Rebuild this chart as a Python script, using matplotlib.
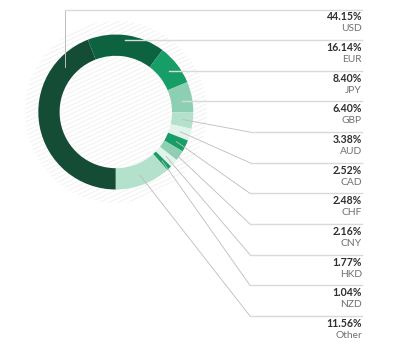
import numpy as np
import matplotlib
matplotlib.use("Agg")
import matplotlib.pyplot as plt
from matplotlib.collections import LineCollection
from matplotlib.patches import Circle

# ---- data ----
currencies = ["USD", "EUR", "JPY", "GBP", "AUD", "CAD", "CHF", "CNY", "HKD", "NZD", "Other"]
shares = [44.15, 16.14, 8.40, 6.40, 3.38, 2.52, 2.48, 2.16, 1.77, 1.04, 11.56]
pct_labels = ["44.15%", "16.14%", "8.40%", "6.40%", "3.38%", "2.52%", "2.48%",
              "2.16%", "1.77%", "1.04%", "11.56%"]
colors = ["#154c35", "#0d6340", "#179e66", "#8dcfb2", "#b3e1cb", "#e1f3ea",
          "#179e66", "#8dcfb2", "#e1f3ea", "#179e66", "#b3e1cb"]

W, H = 394, 345
fig = plt.figure(figsize=(W / 100, H / 100), dpi=100)
ax = fig.add_axes([0, 0, 1, 1])

cx, cy = 115.8, H - 112
R_out, ring_w = 77.5, 21.3

# faint hatch background
hatch_r = 91
ang = np.deg2rad(25)
d = np.array([np.cos(ang), np.sin(ang)])
nrm = np.array([-np.sin(ang), np.cos(ang)])
segs = []
for off in np.arange(-hatch_r, hatch_r, 4.0):
    p0 = np.array([cx, cy]) + nrm * off
    segs.append([p0 - d * 120, p0 + d * 120])
lc = LineCollection(segs, colors="#efefef", linewidths=0.6, zorder=1)
ax.add_collection(lc)
clip = Circle((cx, cy), hatch_r, transform=ax.transData, facecolor="none", edgecolor="none")
ax.add_patch(clip)
lc.set_clip_path(clip)

wedges, _ = ax.pie(shares, colors=colors, startangle=-90, counterclock=False,
                   center=(cx, cy), radius=R_out,
                   wedgeprops=dict(width=ring_w, linewidth=0, edgecolor="none"),
                   frame=True)
for w in wedges:
    w.set_zorder(3)

ax.set_xlim(0, W)
ax.set_ylim(0, H)
ax.set_aspect("equal")
ax.axis("off")

# labels
x_right = 362
x_elbow = 250
y0, dy = 9.5, 30.65
r_mid = R_out - ring_w / 2 + 0.5
line_col = "#bdbdbd"
hline_col = "#d9d9d9"
for i, (w, cur, pl) in enumerate(zip(wedges, currencies, pct_labels)):
    ly = H - (y0 + dy * i)
    theta = np.deg2rad((w.theta1 + w.theta2) / 2)
    sx = cx + r_mid * np.cos(theta)
    sy = cy + r_mid * np.sin(theta)
    if i == 0:
        vx, vy = cx - 50.8, H - 67
        ax.plot([vx, vx], [vy, ly], color=line_col, lw=0.7, zorder=4)
        ax.plot([vx, x_right], [ly, ly], color=hline_col, lw=1.0, zorder=4)
    elif i <= 3:
        ax.plot([sx, x_right], [ly, ly], color=hline_col, lw=1.0, zorder=4)
    else:
        ax.plot([sx, x_elbow], [sy, ly], color=line_col, lw=0.6, zorder=4)
        ax.plot([x_elbow, x_right], [ly, ly], color=hline_col, lw=1.0, zorder=4)
    ax.text(x_right, ly - 7.4, pl, ha="right", va="center", fontsize=7.6,
            fontweight="bold", color="#2f2f2f", family="Lato")
    ax.text(x_right, ly - 19.4, cur, ha="right", va="center", fontsize=7.4,
            color="#707070", family="Lato")

fig.savefig("out.png", dpi=100, facecolor="white")
